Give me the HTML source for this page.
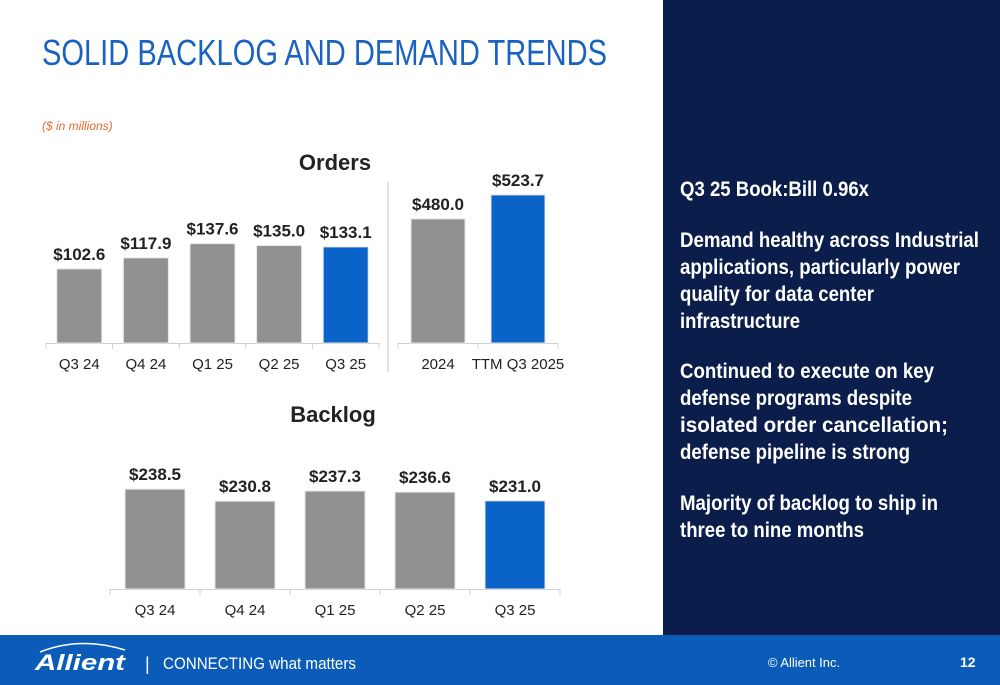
<!DOCTYPE html>
<html><head><meta charset="utf-8"><style>
html,body{margin:0;padding:0;background:#fff}
svg{display:block;font-family:"Liberation Sans Narrow","Liberation Sans",sans-serif}
</style></head><body>
<svg id="s" width="1000" height="685" viewBox="0 0 1000 685" xmlns="http://www.w3.org/2000/svg">
<rect x="0" y="0" width="1000" height="685" fill="#fff"/>
<text x="42" y="65" font-size="36" fill="#1a62c2" textLength="565" lengthAdjust="spacingAndGlyphs">SOLID BACKLOG AND DEMAND TRENDS</text>
<text x="42" y="130" font-size="12" font-style="italic" fill="#e8692a" font-family="Liberation Sans, sans-serif">($ in millions)</text>
<text x="335" y="170" font-size="22" font-weight="bold" fill="#222" text-anchor="middle">Orders</text>
<text x="333" y="422" font-size="22" font-weight="bold" fill="#222" text-anchor="middle">Backlog</text>
<line x1="388" y1="182" x2="388" y2="372" stroke="#d0d8e4" stroke-width="1.5"/>
<g id="charts"></g>
<rect x="663" y="0" width="337" height="635" fill="#0b1d4a"/>
<g fill="#fff" font-size="21" font-weight="bold">
<text x="680" y="196" textLength="189" lengthAdjust="spacingAndGlyphs">Q3 25 Book:Bill 0.96x</text>
<text x="680" y="247" textLength="299" lengthAdjust="spacingAndGlyphs">Demand healthy across Industrial</text>
<text x="680" y="274" textLength="280" lengthAdjust="spacingAndGlyphs">applications, particularly power</text>
<text x="680" y="301" textLength="194" lengthAdjust="spacingAndGlyphs">quality for data center</text>
<text x="680" y="328" textLength="120" lengthAdjust="spacingAndGlyphs">infrastructure</text>
<text x="680" y="378" textLength="254" lengthAdjust="spacingAndGlyphs">Continued to execute on key</text>
<text x="680" y="405" textLength="232" lengthAdjust="spacingAndGlyphs">defense programs despite</text>
<text x="680" y="432" textLength="268" lengthAdjust="spacingAndGlyphs">isolated order cancellation;</text>
<text x="680" y="459" textLength="230" lengthAdjust="spacingAndGlyphs">defense pipeline is strong</text>
<text x="680" y="510" textLength="258" lengthAdjust="spacingAndGlyphs">Majority of backlog to ship in</text>
<text x="680" y="537" textLength="184" lengthAdjust="spacingAndGlyphs">three to nine months</text>
</g>
<rect x="0" y="635" width="1000" height="50" fill="#0a5cb8"/>
<path d="M40 652 Q80 636 125 650" stroke="#fff" stroke-width="1.5" fill="none"/>
<text x="35" y="670" font-size="22" font-weight="bold" font-style="italic" fill="#fff" font-family="Liberation Sans, sans-serif" textLength="90" lengthAdjust="spacingAndGlyphs">Allient</text>
<text x="145" y="670" font-size="18" fill="#fff">|</text>
<text x="163" y="669" font-size="17" fill="#fff" textLength="193" lengthAdjust="spacingAndGlyphs">CONNECTING what matters</text>
<text x="768" y="667" font-size="13" fill="#fff" textLength="72" lengthAdjust="spacingAndGlyphs">© Allient Inc.</text>
<text x="960" y="667" font-size="14" font-weight="bold" fill="#fff">12</text>
</svg>
<script>
const quarterCats = ["Q3 24","Q4 24","Q1 25","Q2 25","Q3 25"];
const orderValues = [102.6,117.9,137.6,135.0,133.1];
const annualCats = ["2024","TTM Q3 2025"];
const annualValues = [480.0,523.7];
const backlogValues = [238.5,230.8,237.3,236.6,231.0];
const NS="http://www.w3.org/2000/svg";
const g=document.getElementById('charts');
function mk(t,a){const e=document.createElementNS(NS,t);for(const k in a)e.setAttribute(k,a[k]);g.appendChild(e);return e;}
function chart(name,cats,vals,x0,slot,bw,base,yScale){
  mk('line',{x1:x0,y1:base+0.5,x2:x0+slot*cats.length,y2:base+0.5,stroke:'#cfcfcf','stroke-width':1});
  for(let i=0;i<=cats.length;i++){mk('line',{x1:x0+slot*i,y1:base,x2:x0+slot*i,y2:base+6,stroke:'#cfcfcf'});}
  cats.forEach((c,i)=>{
    const cx=x0+slot*(i+0.5);const top=yScale(vals[i]);
    const last=i===cats.length-1;
    const r=mk('rect',{x:cx-bw/2,y:top,width:bw,height:base-top,fill:last?'#0a63c8':'#919191',stroke:'#e6e6e6','stroke-width':1});
    
    
    const v=mk('text',{x:cx,y:top-9,'font-size':17,'font-weight':'bold',fill:'#222','text-anchor':'middle'});
    v.textContent='$'+vals[i].toFixed(1);
    
    
    const l=mk('text',{x:cx,y:base+26,'font-size':15,fill:'#222','text-anchor':'middle'});
    l.textContent=c;
    
    
  });
}
chart('orders',quarterCats,orderValues,46,66.6,45,343,v=>343-v*0.722);
chart('annual-orders',annualCats,annualValues,398,80,54,343,v=>343-(v-254)*0.549);
chart('backlog',quarterCats,backlogValues,110,90,60,589,v=>589-(v-174.5)*1.56);
</script>
</body></html>
